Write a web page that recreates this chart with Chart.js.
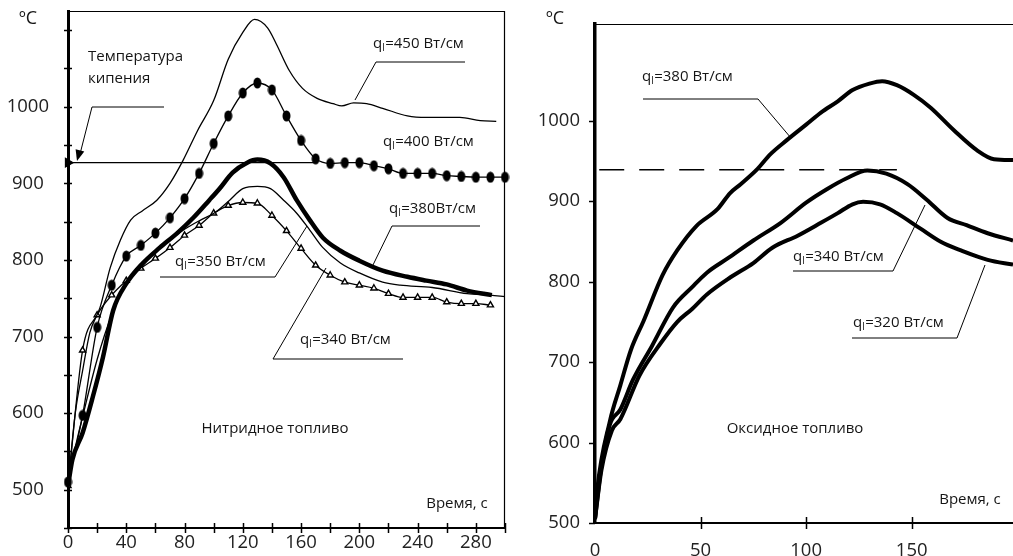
<!DOCTYPE html>
<html>
<head>
<meta charset="utf-8">
<script src="https://cdn.jsdelivr.net/npm/chart.js@4.4.1/dist/chart.umd.min.js"></script>
<style>
  body { margin: 0; background: #fff; }
  #wrap { position: relative; width: 1013px; height: 556px; overflow: hidden; }
  canvas { position: absolute; top: 0; }
  #nitride { left: 0; }
  #oxide { left: 515px; }
</style>
</head>
<body>
<div id="wrap">
  <canvas id="nitride" width="515" height="556"></canvas>
  <canvas id="oxide" width="498" height="556"></canvas>
</div>
<script>
// ---- Нитридное топливо (левый график) ----
const n450Time = [0, 5, 10, 15, 22, 29, 36, 43, 51, 61, 70, 79, 89, 100, 110, 120, 128, 137, 143, 152, 161, 171, 182, 188, 196, 205, 216, 233, 246, 269, 283, 294];
const n450Temp = [505, 600, 655, 705, 738, 790, 826, 852, 864, 878, 900, 930, 969, 1008, 1062, 1097, 1114, 1103, 1082, 1047, 1024, 1011, 1004, 1001, 1005, 1004, 998, 988, 986, 986, 982, 981];

const n400Time = [0, 10, 20, 30, 40, 50, 60, 70, 80, 90, 100, 110, 120, 130, 140, 150, 160, 170, 180, 190, 200, 210, 220, 230, 240, 250, 260, 270, 280, 290, 300];
const n400Temp = [510, 597, 712, 767, 805, 819, 835, 855, 880, 913, 952, 988, 1018, 1031, 1022, 988, 956, 932, 926, 927, 927, 923, 919, 913, 913, 913, 910, 909, 908, 908, 908];

const n380Time = [0, 3, 10, 17, 24, 31, 40, 51, 63, 75, 86, 97, 104, 113, 123, 130, 139, 148, 157, 166, 175, 187, 200, 216, 233, 246, 260, 274, 291];
const n380Temp = [505, 539, 574, 621, 673, 734, 769, 795, 816, 835, 855, 878, 893, 914, 927, 931, 926, 908, 878, 852, 829, 812, 799, 786, 778, 773, 768, 760, 754];

const n350Time = [0, 5, 10, 20, 30, 40, 50, 60, 70, 80, 91, 101, 111, 120, 130, 139, 148, 157, 166, 175, 187, 200, 216, 228, 250, 274, 290, 300];
const n350Temp = [505, 555, 595, 670, 728, 768, 790, 810, 826, 840, 852, 862, 878, 893, 896, 893, 878, 861, 839, 816, 796, 783, 771, 767, 764, 756, 754, 752];

const n340Time = [0, 10, 20, 30, 40, 50, 60, 70, 80, 90, 100, 110, 120, 130, 140, 150, 160, 170, 180, 190, 200, 210, 220, 230, 240, 250, 260, 270, 280, 290];
const n340Temp = [505, 682, 728, 754, 773, 789, 802, 816, 832, 845, 861, 871, 875, 874, 858, 838, 815, 793, 780, 771, 767, 763, 756, 751, 751, 751, 745, 743, 743, 741];

const boilTime = [0, 170];
const boilTemp = [927, 927];

const nitrideTimeTicks = [0, 20, 40, 60, 80, 100, 120, 140, 160, 180, 200, 220, 240, 260, 280, 300];
const nitrideTimeLabels = [0, 40, 80, 120, 160, 200, 240, 280];
const nitrideTempTicks = [450, 500, 550, 600, 650, 700, 750, 800, 850, 900, 950, 1000, 1050, 1100];
const nitrideTempLabels = [500, 600, 700, 800, 900, 1000];

// ---- Оксидное топливо (правый график) ----
const o380Time = [0, 1, 7, 12, 17, 23, 32, 39, 48, 58, 64, 69, 77, 83, 91, 100, 107, 115, 122, 130, 136, 143, 151, 159, 170, 181, 189, 198];
const o380Temp = [505, 540, 626, 671, 715, 751, 808, 839, 869, 890, 910, 921, 940, 958, 976, 995, 1010, 1024, 1038, 1046, 1049, 1044, 1032, 1016, 988, 963, 952, 951];

const o340Time = [0, 3, 7, 12, 18, 27, 37, 46, 53, 63, 75, 88, 100, 110, 119, 129, 138, 148, 157, 167, 176, 186, 198];
const o340Temp = [505, 570, 622, 641, 678, 720, 768, 793, 811, 829, 851, 873, 898, 915, 928, 938, 934, 921, 902, 879, 870, 860, 851];

const o320Time = [0, 3, 8, 12, 21, 31, 39, 46, 53, 64, 75, 84, 96, 107, 115, 122, 127, 135, 143, 154, 164, 173, 186, 198];
const o320Temp = [505, 565, 615, 629, 683, 723, 750, 766, 784, 805, 823, 842, 857, 873, 885, 896, 899, 896, 885, 866, 849, 839, 827, 821];

const dashTime = [2, 143];
const dashTemp = [939, 939];

const oxideTimeTicks = [0, 50, 100, 150];
const oxideTempTicks = [500, 600, 700, 800, 900, 1000];

const toPoints = (xs, ys) => xs.map((x, i) => ({ x: x, y: ys[i] }));
const fixedTicks = list => s => { s.ticks = list.map(v => ({ value: v })); };

// точка-эллипс для кривой 400 Вт/см
const dot = document.createElement('canvas');
dot.width = 9; dot.height = 12;
const dctx = dot.getContext('2d');
dctx.fillStyle = '#000';
dctx.beginPath();
dctx.ellipse(4.5, 6, 4, 5.6, 0, 0, Math.PI * 2);
dctx.fill();

const FONT = '"Open Sans", "DejaVu Sans", sans-serif';

// подписи, выноски, засечки, рамка
const decorPlugin = {
  id: 'decor',
  afterDraw(chart, args, o) {
    const ctx = chart.ctx;
    const a = chart.chartArea;
    const sx = chart.scales.x, sy = chart.scales.y;
    ctx.save();
    ctx.strokeStyle = '#000';
    ctx.fillStyle = '#151515';

    ctx.lineWidth = 1.2;
    ctx.beginPath();
    ctx.moveTo(a.left, a.top + 0.5);
    ctx.lineTo(a.right, a.top + 0.5);
    if (o.rightFrame) {
      ctx.moveTo(a.right - 0.5, a.top);
      ctx.lineTo(a.right - 0.5, a.bottom);
    }
    ctx.stroke();

    ctx.lineWidth = 1.5;
    ctx.beginPath();
    sy.ticks.forEach(t => {
      const y = Math.round(sy.getPixelForValue(t.value)) + 0.5;
      ctx.moveTo(a.left - o.yTickOut, y);
      ctx.lineTo(a.left + o.yTickIn, y);
    });
    sx.ticks.forEach(t => {
      if (!o.xTickShow(t.value)) return;
      const x = Math.round(sx.getPixelForValue(t.value)) + 0.5;
      ctx.moveTo(x, a.bottom - o.xTickIn);
      ctx.lineTo(x, a.bottom + o.xTickOut);
    });
    ctx.stroke();

    ctx.lineWidth = 1;
    o.leaders.forEach(p => {
      ctx.beginPath();
      ctx.moveTo(p[0], p[1]);
      for (let i = 2; i < p.length; i += 2) ctx.lineTo(p[i], p[i + 1]);
      ctx.stroke();
    });

    if (o.arrow) {
      const [x0, y0, x1, y1] = o.arrow;
      const len = Math.hypot(x1 - x0, y1 - y0);
      const ux = (x1 - x0) / len, uy = (y1 - y0) / len;
      ctx.fillStyle = '#000';
      ctx.beginPath();
      ctx.moveTo(x1, y1);
      ctx.lineTo(x1 - ux * 11 - uy * 4.5, y1 - uy * 11 + ux * 4.5);
      ctx.lineTo(x1 - ux * 11 + uy * 4.5, y1 - uy * 11 - ux * 4.5);
      ctx.closePath();
      ctx.fill();
      ctx.fillStyle = '#151515';
    }

    ctx.textBaseline = 'middle';
    o.texts.forEach(t => {
      const size = t.size || 15;
      ctx.font = size + 'px ' + FONT;
      if (t.q) {
        ctx.textAlign = 'left';
        let x = t.x;
        ctx.fillText('q', x, t.y);
        x += ctx.measureText('q').width;
        ctx.font = '10px ' + FONT;
        ctx.fillText('l', x, t.y + 4);
        x += ctx.measureText('l').width + 0.5;
        ctx.font = size + 'px ' + FONT;
        ctx.fillText(t.text, x, t.y);
      } else {
        ctx.textAlign = t.align || 'left';
        ctx.fillText(t.text, t.x, t.y);
      }
    });
    ctx.restore();
  }
};

const tickFont = { family: FONT, size: 18.5 };

// Левый график
const nitrideChart = new Chart(document.getElementById('nitride'), {
  type: 'line',
  data: {
    datasets: [
      { data: toPoints(n450Time, n450Temp), borderColor: '#000', borderWidth: 1.3, pointRadius: 0 },
      { data: toPoints(n400Time, n400Temp), borderColor: '#000', borderWidth: 1.3,
        pointStyle: dot, pointRadius: 4, clip: false },
      { data: toPoints(n380Time, n380Temp), borderColor: '#000', borderWidth: 4.5, pointRadius: 0 },
      { data: toPoints(n350Time, n350Temp), borderColor: '#000', borderWidth: 1.3, pointRadius: 0 },
      { data: toPoints(n340Time, n340Temp), borderColor: '#000', borderWidth: 1.3,
        pointStyle: 'triangle', pointRadius: 3.5, pointBackgroundColor: '#fff',
        pointBorderColor: '#000', pointBorderWidth: 1.4 },
      { data: toPoints(boilTime, boilTemp), borderColor: '#000', borderWidth: 1.3,
        pointStyle: 'triangle', rotation: 90, pointRadius: [5, 0], pointBackgroundColor: '#000', clip: false }
    ]
  },
  options: {
    animation: false,
    responsive: false,
    devicePixelRatio: 1,
    layout: { padding: { top: 11, right: 10, left: 0, bottom: 0 } },
    elements: { line: { cubicInterpolationMode: 'monotone' } },
    plugins: {
      legend: { display: false },
      tooltip: { enabled: false },
      decor: {
        rightFrame: true,
        xTickShow: v => true,
        yTickOut: 4, yTickIn: 4, xTickIn: 5, xTickOut: 5,
        leaders: [
          [164, 107, 92, 107, 80, 154],
          [465, 62, 376, 62, 355, 100],
          [480, 226, 392, 226, 372, 267],
          [160, 277, 275, 277, 307, 226],
          [403, 359, 273, 359, 326, 268]
        ],
        arrow: [92, 107, 77, 161],
        texts: [
          { text: 'ºC', x: 28, y: 19, align: 'center', size: 18 },
          { text: 'Температура', x: 88, y: 57 },
          { text: 'кипения', x: 88, y: 79 },
          { text: '=450 Вт/см', x: 373, y: 44, q: true },
          { text: '=400 Вт/см', x: 383, y: 142, q: true },
          { text: '=380Вт/см', x: 389, y: 209, q: true },
          { text: '=350 Вт/см', x: 175, y: 262, q: true },
          { text: '=340 Вт/см', x: 300, y: 340, q: true },
          { text: 'Нитридное топливо', x: 275, y: 429, align: 'center' },
          { text: 'Время, с', x: 457, y: 504, align: 'center' }
        ]
      }
    },
    scales: {
      x: {
        type: 'linear', min: 0, max: 300,
        afterBuildTicks: fixedTicks(nitrideTimeTicks),
        ticks: { autoSkip: false, maxRotation: 0, padding: 4, font: tickFont, color: '#222',
          callback: v => nitrideTimeLabels.includes(v) ? String(v) : '' },
        grid: { display: false, drawTicks: false },
        border: { width: 2, color: '#000' },
        afterFit: s => { s.height = 28; s.paddingLeft = 0; s.paddingRight = 0; }
      },
      y: {
        type: 'linear', min: 450, max: 1125,
        afterBuildTicks: fixedTicks(nitrideTempTicks),
        ticks: { autoSkip: false, padding: 19, crossAlign: 'center', font: tickFont, color: '#222',
          callback: v => nitrideTempLabels.includes(v) ? String(v) : '' },
        grid: { display: false, drawTicks: false },
        border: { width: 3, color: '#000' },
        afterFit: s => { s.width = 68; s.paddingTop = 0; s.paddingBottom = 0; }
      }
    }
  },
  plugins: [decorPlugin]
});

// Правый график
const oxideChart = new Chart(document.getElementById('oxide'), {
  type: 'line',
  data: {
    datasets: [
      { data: toPoints(o380Time, o380Temp), borderColor: '#000', borderWidth: 4, pointRadius: 0 },
      { data: toPoints(o340Time, o340Temp), borderColor: '#000', borderWidth: 4, pointRadius: 0 },
      { data: toPoints(o320Time, o320Temp), borderColor: '#000', borderWidth: 4, pointRadius: 0 },
      { data: toPoints(dashTime, dashTemp), borderColor: '#000', borderWidth: 1.4, borderDash: [25, 15], pointRadius: 0 }
    ]
  },
  options: {
    animation: false,
    responsive: false,
    devicePixelRatio: 1,
    layout: { padding: { top: 24, right: 0, left: 0, bottom: 0 } },
    elements: { line: { cubicInterpolationMode: 'monotone' } },
    plugins: {
      legend: { display: false },
      tooltip: { enabled: false },
      decor: {
        rightFrame: false,
        xTickShow: v => v > 0,
        yTickOut: 6, yTickIn: 0, xTickIn: 6, xTickOut: 6,
        leaders: [
          [128, 99, 243, 99, 276, 138],
          [278, 271, 378, 271, 410, 205],
          [337, 338, 442, 338, 470, 265]
        ],
        texts: [
          { text: 'ºC', x: 40, y: 19, align: 'center', size: 18 },
          { text: '=380 Вт/см', x: 127, y: 77, q: true },
          { text: '=340 Вт/см', x: 278, y: 257, q: true },
          { text: '=320 Вт/см', x: 338, y: 323, q: true },
          { text: 'Оксидное топливо', x: 280, y: 429, align: 'center' },
          { text: 'Время, с', x: 455, y: 500, align: 'center' }
        ]
      }
    },
    scales: {
      x: {
        type: 'linear', min: 0, max: 198,
        afterBuildTicks: fixedTicks(oxideTimeTicks),
        ticks: { autoSkip: false, maxRotation: 0, padding: 17, font: tickFont, color: '#222',
          callback: v => String(v) },
        grid: { display: false, drawTicks: false },
        border: { width: 2, color: '#000' },
        afterFit: s => { s.height = 33; s.paddingLeft = 0; s.paddingRight = 0; }
      },
      y: {
        type: 'linear', min: 500, max: 1120,
        afterBuildTicks: fixedTicks(oxideTempTicks),
        ticks: { autoSkip: false, padding: 15, font: tickFont, color: '#222',
          callback: v => String(v) },
        grid: { display: false, drawTicks: false },
        border: { width: 3.5, color: '#000' },
        afterFit: s => { s.width = 80; s.paddingTop = 0; s.paddingBottom = 0; }
      }
    }
  },
  plugins: [decorPlugin]
});
</script>
</body>
</html>
